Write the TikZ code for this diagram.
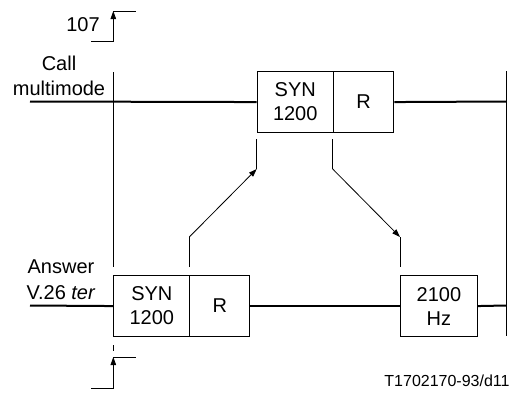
\documentclass[tikz,border=0pt]{standalone}
\usepackage{fontspec}
\setmainfont{Liberation Sans}
\usetikzlibrary{arrows.meta}
\begin{document}
\begin{tikzpicture}[x=1pt,y=-1pt,
  box/.style={draw,line width=1.1pt,minimum height=61pt,inner sep=0pt,align=center,anchor=north west,font=\fontsize{20}{24}\selectfont},
  sig/.style={line width=2pt},
  thinl/.style={line width=0.8pt},
  arr/.style={thinl,-{Triangle[length=8pt,width=5.5pt]}},
  lbl/.style={align=center,inner sep=0pt}]
\useasboundingbox (0,0) rectangle (513,397);
% boxes
\node[box,minimum width=76pt] (s1) at (256.7,71) {SYN\\1200};
\node[box,minimum width=60.6pt] (r1) at (332.7,71) {R};
\node[box,minimum width=76pt] (s2) at (113.3,275) {SYN\\1200};
\node[box,minimum width=60pt] (r2) at (189.3,275) {R};
\node[box,minimum width=76.7pt] (hz) at (400,275) {2100\\Hz};
% labels
\node[lbl,font=\fontsize{20}{24}\selectfont] (n107) at (83,25) {107};
\node[lbl,font=\fontsize{20}{25}\selectfont] (call) at (59,75.5) {Call\\multimode};
\node[lbl,font=\fontsize{20}{26}\selectfont] (ans) at (61,280) {Answer\\V.26 \textit{ter}};
\node[lbl,font=\fontsize{16}{19}\selectfont] (ref) at (447,381) {T1702170-93/d11};
% coordinates
\coordinate (cl) at (30,101.5);
\coordinate (cr) at (506,101.5);
\coordinate (al) at (30,305.5);
\coordinate (ar) at (506,305.5);
\coordinate (lt) at (113.3,72);
\coordinate (lb) at (113.3,267);
\coordinate (rt) at (506,71);
\coordinate (rb) at (506,336);
% signal lines
\draw[sig] (cl) -- (s1.west);
\draw[sig] (r1.east) -- (cr);
\draw[sig] (al) -- (s2.west);
\draw[sig] (r2.east) -- (hz.west);
\draw[sig] (hz.east) -- (ar);
% verticals
\draw[thinl] (lt) -- (lb);
\draw[thinl] (rt) -- (rb);
\draw[thinl] (113.3,345) -- (113.3,351);
% brackets
\coordinate (b1a) at (91,41);
\coordinate (b1b) at (113.3,41);
\coordinate (b1c) at (113.3,11);
\coordinate (b1d) at (136,11);
\draw[arr] (b1a) -- (b1b) -- (b1c);
\draw[thinl] (b1c) -- (b1d);
\coordinate (b2a) at (91,388);
\coordinate (b2b) at (113.3,388);
\coordinate (b2c) at (113.3,357);
\coordinate (b2d) at (136,357);
\draw[arr] (b2a) -- (b2b) -- (b2c);
\draw[thinl] (b2c) -- (b2d);
% exchange arrows
\coordinate (u1) at (189.3,267);
\coordinate (u2) at (189.3,237);
\coordinate (u3) at (256.7,169);
\coordinate (u4) at (256.7,139);
\draw[thinl] (u1) -- (u2);
\draw[arr] (u2) -- (u3);
\draw[thinl] (u3) -- (u4);
\coordinate (d1) at (332.7,139);
\coordinate (d2) at (332.7,169);
\coordinate (d3) at (400,237);
\coordinate (d4) at (400,267);
\draw[thinl] (d1) -- (d2);
\draw[arr] (d2) -- (d3);
\draw[thinl] (d3) -- (d4);
\end{tikzpicture}
\end{document}
